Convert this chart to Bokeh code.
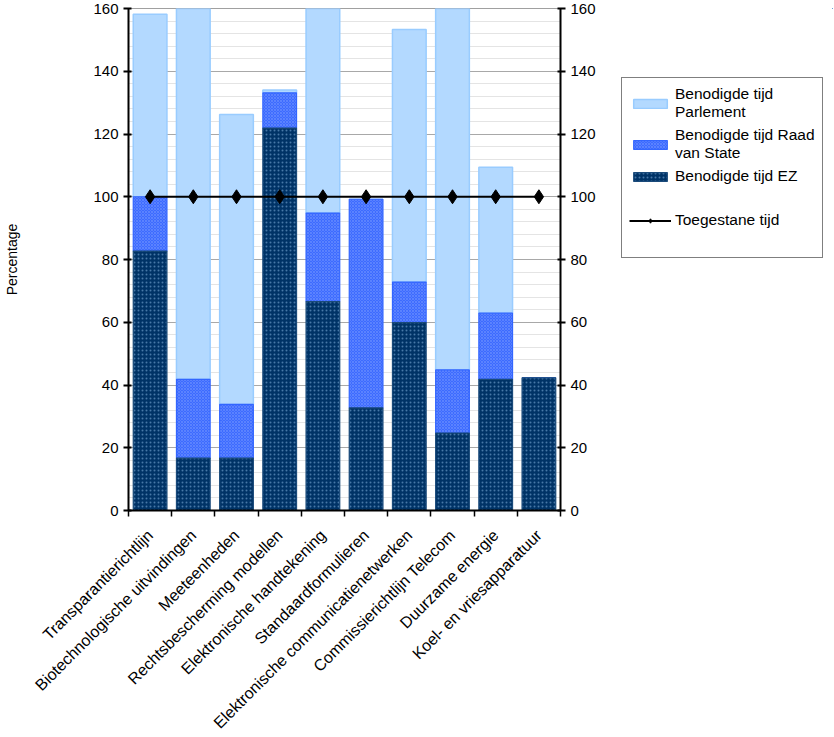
import numpy as np
from math import pi
from bokeh.plotting import figure
from bokeh.layouts import row
from bokeh.models import (Range1d, LinearAxis, FixedTicker,
                          Legend, LegendItem, ColumnDataSource)
from bokeh.embed import file_html
from bokeh.resources import INLINE

categories = ["Transparantierichtlijn", "Biotechnologische uitvindingen", "Meeteenheden",
              "Rechtsbescherming modellen", "Elektronische handtekening", "Standaardformulieren",
              "Elektronische communicatienetwerken", "Commissierichtlijn Telecom",
              "Duurzame energie", "Koel- en vriesapparatuur"]
tijd_ez = [82.7, 16.7, 16.7, 121.9, 66.6, 32.7, 59.9, 24.7, 41.8, 42.3]
tijd_rvs = [17.3, 25.1, 17.1, 11.2, 28.2, 66.5, 12.9, 20.1, 21.1, 0.0]
tijd_parlement = [58.2, 130.0, 92.4, 0.9, 80.0, 0.0, 80.5, 130.0, 46.5, 0.0]
toegestane_tijd = [100, 100, 100, 100, 100, 100, 100, 100, 100, 100]
y_ticks = [0, 20, 40, 60, 80, 100, 120, 140, 160]
legend_labels = ["Benodigde tijd\nParlement", "Benodigde tijd Raad\nvan State",
                 "Benodigde tijd EZ", "Toegestane tijd"]

FONT = "Liberation Sans"
n = len(categories)
xs = np.arange(n) + 0.5
ez = np.array(tijd_ez)
rvs_top = ez + np.array(tijd_rvs)
parl_top = rvs_top + np.array(tijd_parlement)

src = ColumnDataSource(dict(x=xs, ez=ez, rvs_top=rvs_top, parl_top=parl_top,
                            zero=np.zeros(n), allowed=toegestane_tijd))

H = 736
TOP, FH = 8, 502
BOTTOM = H - TOP - FH
p = figure(frame_width=432, frame_height=FH, output_backend="svg", toolbar_location=None,
           x_range=Range1d(0, n), y_range=Range1d(y_ticks[0], y_ticks[-1]),
           min_border_left=128, min_border_right=48, min_border_top=TOP,
           min_border_bottom=BOTTOM)
p.xaxis.visible = False
p.yaxis.visible = False
p.outline_line_color = "#a0a0a0"
p.background_fill_color = "white"

PARL = dict(fill_color="#b3d9ff", line_color="#99ccff", line_width=1.5)
RVS = dict(fill_color="#3d6bff", line_color="#3366ff", line_width=1.2,
           hatch_pattern="diagonal_cross", hatch_color="#7a9cff", hatch_scale=3,
           hatch_weight=0.8, hatch_alpha=0.6)
EZ = dict(fill_color="#003366", line_color="#1a4a7a", line_width=1.2,
          hatch_pattern="dot", hatch_color="#4f7fae", hatch_scale=4,
          hatch_weight=1, hatch_alpha=0.9)
LINE = dict(line_color="black", line_width=2)
PTS = dict(marker="diamond", size=14, fill_color="black", line_color="black")

bw = 0.78


def draw(fig):
    a = fig.vbar(x="x", bottom="rvs_top", top="parl_top", width=bw, source=src, **PARL)
    b = fig.vbar(x="x", bottom="ez", top="rvs_top", width=bw, source=src, **RVS)
    c = fig.vbar(x="x", bottom="zero", top="ez", width=bw, source=src, **EZ)
    d = fig.line(x="x", y="allowed", source=src, **LINE)
    e = fig.scatter(x="x", y="allowed", source=src, **PTS)
    return a, b, c, d, e


draw(p)

# axes
yt = FixedTicker(ticks=y_ticks, minor_ticks=list(range(0, 161, 4)))
for side in ("left", "right"):
    ax = LinearAxis(ticker=yt)
    ax.axis_line_width = 2
    ax.axis_line_color = "black"
    ax.major_tick_in = 3
    ax.major_tick_out = 5
    ax.major_tick_line_width = 2
    ax.minor_tick_line_color = None
    ax.major_label_text_font = FONT
    ax.major_label_text_font_size = "15px"
    ax.major_label_text_color = "black"
    ax.major_label_standoff = 5
    if side == "left":
        ax.axis_label = "Percentage"
        ax.axis_label_text_font = FONT
        ax.axis_label_text_font_style = "normal"
        ax.axis_label_text_font_size = "14px"
        ax.axis_label_text_color = "black"
        ax.axis_label_standoff = 70
    p.add_layout(ax, side)

xt = FixedTicker(ticks=list(xs), minor_ticks=list(range(0, n + 1)))
xax = LinearAxis(ticker=xt)
xax.major_label_overrides = {float(x): c for x, c in zip(xs, categories)}
xax.major_tick_line_color = None
xax.minor_tick_in = 0
xax.minor_tick_out = 6
xax.minor_tick_line_color = "black"
xax.minor_tick_line_width = 1.5
xax.axis_line_width = 2
xax.major_label_orientation = pi / 4
xax.major_label_text_font = FONT
xax.major_label_text_font_size = "16px"
xax.major_label_text_color = "black"
xax.major_label_standoff = 16
p.add_layout(xax, "below")

p.xgrid.visible = False
p.ygrid.ticker = yt
p.ygrid.grid_line_color = "#a8a8a8"
p.ygrid.grid_line_width = 1.2
p.ygrid.minor_grid_line_color = "#e4e4e4"

# legend panel: a second figure to the right whose (off-range) glyphs feed the legend
LW = 834 - 1 - (128 + 432 + 48)
q = figure(frame_width=LW, frame_height=FH, output_backend="svg", toolbar_location=None,
           x_axis_type=None, y_axis_type=None,
           min_border_left=0, min_border_top=TOP, min_border_right=0,
           min_border_bottom=BOTTOM,
           x_range=Range1d(-200, -100), y_range=Range1d(-200, -100))
q.outline_line_color = None
q.grid.visible = False
g_parl, g_rvs, g_ez, g_line, g_pts = draw(q)
g_blank = q.scatter(x="x", y="allowed", source=src, size=1, fill_alpha=0, line_alpha=0)

legend = Legend(items=[
    LegendItem(label=legend_labels[0], renderers=[g_parl]),
    LegendItem(label=legend_labels[1], renderers=[g_rvs]),
    LegendItem(label=legend_labels[2], renderers=[g_ez]),
    LegendItem(label=" ", renderers=[g_blank]),
    LegendItem(label=legend_labels[3], renderers=[g_line, g_pts]),
    LegendItem(label=" ", renderers=[g_blank]),
])
legend.location = (621 - 608, TOP + FH - 258)
legend.label_text_font = FONT
legend.label_text_font_size = "15.5px"
legend.label_text_color = "black"
legend.glyph_width = 42
legend.glyph_height = 11
legend.label_standoff = 4
legend.spacing = 5
legend.padding = 7
legend.label_height = 16
legend.border_line_color = "black"
legend.border_line_width = 1.5
legend.background_fill_color = "white"
legend.margin = 0
q.add_layout(legend, "center")

layout = row(p, q)
open("out.html", "w").write(file_html(layout, INLINE))
